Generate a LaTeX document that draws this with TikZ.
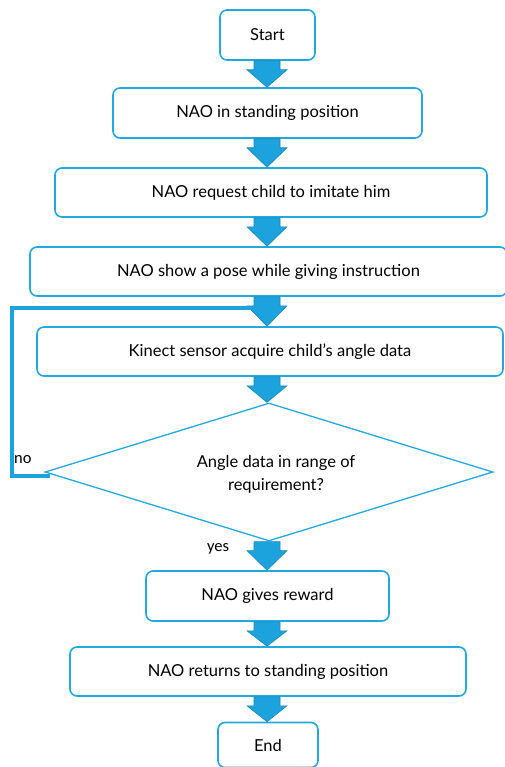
\documentclass[tikz,border=0pt]{standalone}
\usepackage{fontspec}
\setmainfont{Lato}
\newfontfamily\calib{Carlito}
\usetikzlibrary{shapes.geometric,arrows.meta,calc}
\definecolor{bord}{HTML}{22A8E0}
\definecolor{afill}{HTML}{1CA3DD}
\definecolor{aline}{HTML}{1A85B5}
\tikzset{
  box/.style={draw=bord, line width=1.6pt, rounded corners=7pt, fill=white, font=\fontsize{16.5}{19}\selectfont, inner sep=0pt},
  barrowstyle/.style={fill=afill, draw=aline, line width=0.6pt, line join=miter},
  loopline/.style={draw=afill, line width=3.5pt},
  lbl/.style={font=\calib\fontsize{16.5}{18}\selectfont, inner sep=0pt}
}
\newcommand\barrow[2]{%
  \path let \p1=(#1.south), \p2=(#2.north) in
    [barrowstyle] (267pt-13pt,\y1) -- (267pt+13pt,\y1) -- (267pt+13pt,\y1-9pt) -- (267pt+20pt,\y1-9pt)
    -- (267pt,\y2) -- (267pt-20pt,\y1-9pt) -- (267pt-13pt,\y1-9pt) -- cycle;}
\begin{document}
\begin{tikzpicture}[x=1pt,y=-1pt]
\useasboundingbox (0,0) rectangle (505,767);
\node[box, minimum width=95pt, minimum height=50pt] (start) at (267.5,35) {Start};
\node[box, minimum width=309pt, minimum height=50pt] (n1) at (267.5,113) {NAO in standing position};
\node[box, minimum width=432pt, minimum height=49pt] (n2) at (271,192.5) {NAO request child to imitate him};
\node[box, minimum width=477pt, minimum height=49pt] (n3) at (268.5,271.5) {NAO show a pose while giving instruction};
\node[box, minimum width=466pt, minimum height=49pt] (n4) at (270,351.5) {Kinect sensor acquire child’s angle data};
\node[draw=bord, line width=1.3pt, diamond, aspect=3.25, minimum width=448pt, minimum height=138pt, inner sep=0pt] (d) at (269,472) {};
\node[font=\fontsize{16.5}{23}\selectfont, align=center] (dt) at (276,474) {Angle data in range of\\requirement?};
\node[box, minimum width=243pt, minimum height=50pt] (n5) at (267.5,596) {NAO gives reward};
\node[box, minimum width=396pt, minimum height=49pt] (n6) at (268,671.5) {NAO returns to standing position};
\node[box, minimum width=100pt, minimum height=45pt] (end) at (268,745) {End};
\barrow{start}{n1}
\barrow{n1}{n2}
\barrow{n2}{n3}
\barrow{n3}{n4}
\barrow{n4}{d}
\barrow{d}{n5}
\barrow{n5}{n6}
\barrow{n6}{end}
\coordinate (lc1) at (12,476);
\coordinate (lc2) at (12,308);
\coordinate (lc3) at (266,308);
\draw[loopline, -{Triangle[length=8pt,width=9pt]}] ($(d.west)+(6,4)$) -- (lc1) -- (lc2) -- (lc3);
\node[lbl, anchor=west] (no) at (14,460) {no};
\node[lbl] (yes) at (218,549) {yes};
\end{tikzpicture}
\end{document}
